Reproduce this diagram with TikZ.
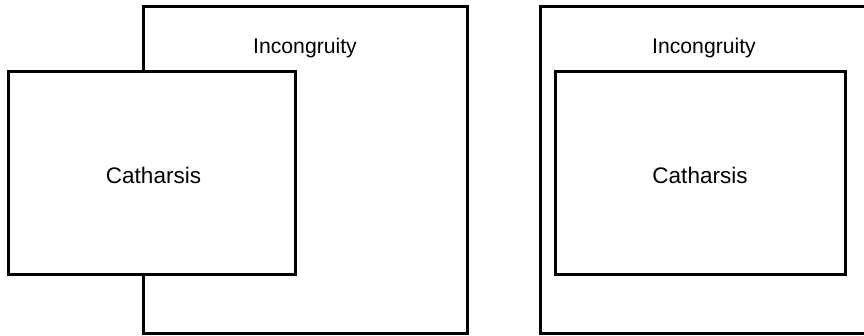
\documentclass[tikz,border=0pt]{standalone}
\usepackage{fontspec}
\setmainfont{Liberation Sans}
\begin{document}
\begin{tikzpicture}[x=1pt,y=-1pt,
  box/.style={draw=black,line width=3pt,fill=white,rectangle,inner sep=0pt},
  cattext/.style={font=\fontsize{22.5}{26}\selectfont},
  lbl/.style={font=\fontsize{21.2}{25}\selectfont,inner sep=0pt}]
\useasboundingbox (0,0) rectangle (864,336);
\clip (0,0) rectangle (864,336);
% left diagram
\node[box,minimum width=324pt,minimum height=326pt] (inc1) at (305,170) {};
\node[lbl] (inct1) at (305,48) {Incongruity};
\node[box,minimum width=287pt,minimum height=203pt] (cat1) at (151.5,173.5) {};
\node[cattext] (catt1) at (153.5,175) {Catharsis};
% right diagram
\node[box,minimum width=340pt,minimum height=326pt] (inc2) at (710,170) {};
\node[lbl] (inct2) at (704,48) {Incongruity};
\node[box,minimum width=290pt,minimum height=203pt] (cat2) at (700,173.5) {};
\node[cattext] (catt2) at (700,175) {Catharsis};
\end{tikzpicture}
\end{document}
